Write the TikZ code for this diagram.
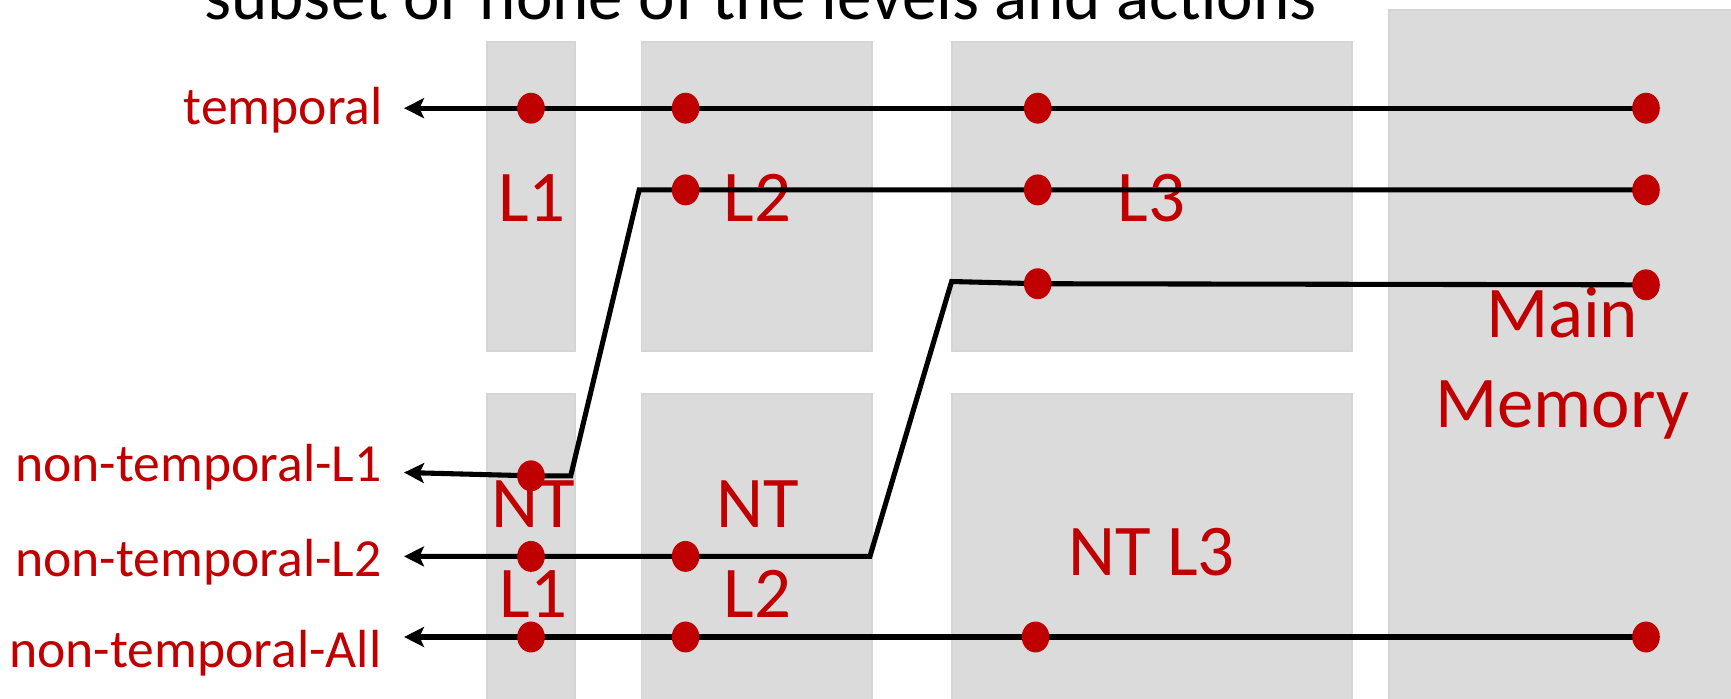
\documentclass[tikz,border=0pt]{standalone}
\usepackage{fontspec}
\setmainfont{Carlito}
\usetikzlibrary{shapes.geometric,arrows.meta}
\definecolor{dred}{HTML}{C00000}
\definecolor{boxfill}{HTML}{DBDBDB}
\definecolor{boxline}{HTML}{D5D5D5}
\pgfdeclarelayer{boxes}
\pgfdeclarelayer{wires}
\pgfsetlayers{boxes,wires,main}
\begin{document}
\begin{tikzpicture}[x=0.5pt,y=-0.5pt,
  cachebox/.style={fill=boxfill,draw=boxline,line width=0.8pt},
  dot/.style={ellipse,fill=dred,inner sep=0pt,minimum width=12.5pt,minimum height=14pt},
  wire/.style={line width=2.3pt,black,line join=miter},
  tipend/.style={-{Stealth[length=9pt,width=9pt,inset=2pt]}},
  lvl/.style={text=dred,font=\fontsize{33}{40.5}\selectfont,align=center,inner sep=0pt,anchor=base},
  side/.style={text=dred,font=\fontsize{24.3}{29}\selectfont,anchor=base east,inner sep=0pt},
  ttl/.style={text=black,font=\fontsize{31.3}{36}\selectfont,anchor=base west,inner sep=0pt}]
\useasboundingbox (0,0) rectangle (1568,633);

\begin{pgfonlayer}{boxes}
  \path[cachebox] (441,38) rectangle (521,318);
  \path[cachebox] (581,38) rectangle (790,318);
  \path[cachebox] (862,38) rectangle (1225,318);
  \path[cachebox] (1258,9) rectangle (1600,660);
  \path[cachebox] (441,357) rectangle (521,660);
  \path[cachebox] (581,357) rectangle (790,660);
  \path[cachebox] (862,357) rectangle (1225,660);
  \node[lvl] (lL1) at (482,201) {L1};
  \node[lvl] (lL2) at (686,201) {L2};
  \node[lvl] (lL3) at (1043,201) {L3};
  \node[lvl] (lMM) at (1415,387) {Main\\Memory};
  \node[lvl] (lNT1) at (483,559) {NT\\L1};
  \node[lvl] (lNT2) at (686,559) {NT\\L2};
  \node[lvl] (lNT3) at (1043,521) {NT L3};
\end{pgfonlayer}

\node[ttl] (title) at (185,18) {subset or none of the levels and actions};

\node[side] (sT) at (347,113) {temporal};
\node[side] (sN1) at (346,436) {non-temporal-L1};
\node[side] (sN2) at (346,522) {non-temporal-L2};
\node[side] (sAll) at (346,605) {non-temporal-All};

% dots
\node[dot] (t1) at (481,98) {};
\node[dot] (t2) at (621,98) {};
\node[dot] (t3) at (940,98) {};
\node[dot] (t4) at (1491,98) {};
\node[dot] (a2) at (621,172) {};
\node[dot] (a3) at (940,172) {};
\node[dot] (a4) at (1491,172) {};
\node[dot] (b3) at (940,257) {};
\node[dot] (b4) at (1491,258) {};
\node[dot] (n1) at (481,431) {};
\node[dot] (m1) at (481,504) {};
\node[dot] (m2) at (621,504) {};
\node[dot] (z1) at (481,577) {};
\node[dot] (z2) at (621,577) {};
\node[dot] (z3) at (938,577) {};
\node[dot] (z4) at (1491,577) {};

\coordinate (ca) at (579,172);
\coordinate (cb) at (517,431);
\coordinate (cc) at (862,255);
\coordinate (cd) at (788,504);
\coordinate (eT) at (366,98);
\coordinate (eN1) at (366,428);
\coordinate (eN2) at (366,504);
\coordinate (eAll) at (366,577);

\begin{pgfonlayer}{wires}
  \draw[wire,tipend] (t4.center) -- (t3.center) -- (t2.center) -- (t1.center) -- (eT);
  \draw[wire,tipend] (a4.center) -- (a3.center) -- (a2.center) -- (ca) -- (cb) -- (n1.center) -- (eN1);
  \draw[wire,tipend] (b4.center) -- (b3.center) -- (cc) -- (cd) -- (m2.center) -- (m1.center) -- (eN2);
  \draw[wire,tipend] (z4.center) -- (z3.center) -- (z2.center) -- (z1.center) -- (eAll);
\end{pgfonlayer}
\end{tikzpicture}
\end{document}
